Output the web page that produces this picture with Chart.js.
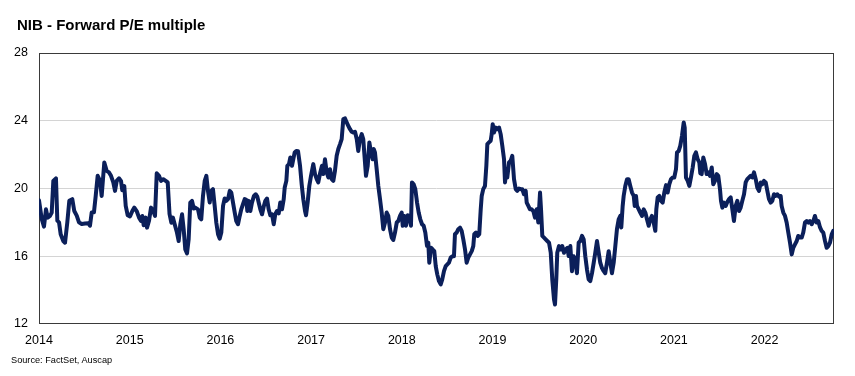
<!DOCTYPE html>
<html><head><meta charset="utf-8">
<script src="https://cdn.jsdelivr.net/npm/chart.js@4.4.0/dist/chart.umd.min.js"></script>
<style>
html,body{margin:0;padding:0;background:#fff;}
#wrap{position:relative;width:855px;height:376px;overflow:hidden;background:#fff;}
#title{position:absolute;left:17px;top:16px;font:bold 15px "Liberation Sans",Arial,sans-serif;line-height:18px;color:#000;white-space:nowrap;}
#source{position:absolute;left:11px;top:355px;font:9.2px "Liberation Sans",Arial,sans-serif;line-height:11px;color:#000;white-space:nowrap;}
canvas{position:absolute;left:0;top:0;}
</style></head>
<body><div id="wrap"><canvas id="c" width="855" height="376"></canvas><div id="title">NIB - Forward P/E multiple</div><div id="source">Source: FactSet, Auscap</div></div>
<script>
// Dates as decimal years (weekly-ish observations)
const dates = [
2014.000,2014.030,2014.055,2014.077,2014.096,2014.121,2014.140,2014.158,2014.187,2014.202,2014.221,2014.239,2014.268,2014.287,2014.312,2014.334,2014.367,2014.389,2014.416,2014.441,2014.471,2014.507,2014.544,2014.562,2014.581,2014.606,2014.625,2014.647,2014.673,2014.691,2014.720,2014.746,2014.772,2014.794,2014.819,2014.838,2014.857,2014.882,2014.904,2014.918,2014.940,2014.956,2014.978,
2015.003,2015.029,2015.051,2015.077,2015.103,2015.125,2015.139,2015.154,2015.176,2015.191,2015.213,2015.235,2015.260,2015.279,2015.298,2015.323,2015.345,2015.370,2015.397,2015.419,2015.439,2015.459,2015.477,2015.496,2015.521,2015.540,2015.558,2015.577,2015.595,2015.613,2015.632,2015.650,2015.668,2015.687,2015.706,2015.723,2015.753,2015.772,2015.789,2015.808,2015.827,2015.845,2015.863,2015.882,2015.900,2015.918,2015.937,2015.955,2015.974,2015.992,
2016.010,2016.029,2016.047,2016.065,2016.084,2016.103,2016.120,2016.139,2016.158,2016.175,2016.194,2016.213,2016.230,2016.249,2016.268,2016.286,2016.297,2016.312,2016.330,2016.348,2016.370,2016.389,2016.407,2016.422,2016.440,2016.459,2016.477,2016.495,2016.514,2016.532,2016.550,2016.569,2016.588,2016.605,2016.624,2016.643,2016.660,2016.679,2016.698,2016.709,2016.727,2016.738,2016.756,2016.771,2016.789,2016.804,2016.819,2016.837,2016.856,2016.878,2016.896,2016.914,2016.933,2016.944,2016.962,2016.980,2016.999,
2017.024,2017.043,2017.062,2017.079,2017.101,2017.120,2017.134,2017.153,2017.172,2017.190,2017.208,2017.227,2017.245,2017.263,2017.282,2017.300,2017.319,2017.337,2017.355,2017.374,2017.392,2017.410,2017.429,2017.448,2017.465,2017.484,2017.503,2017.520,2017.539,2017.558,2017.575,2017.594,2017.605,2017.624,2017.642,2017.660,2017.679,2017.690,2017.704,2017.723,2017.741,2017.760,2017.778,2017.796,2017.815,2017.833,2017.851,2017.870,2017.889,2017.906,2017.925,2017.944,2017.961,2017.980,2017.999,
2018.010,2018.028,2018.046,2018.065,2018.083,2018.101,2018.112,2018.131,2018.149,2018.168,2018.186,2018.204,2018.223,2018.241,2018.259,2018.278,2018.292,2018.303,2018.322,2018.341,2018.358,2018.374,2018.391,2018.410,2018.429,2018.446,2018.465,2018.484,2018.502,2018.520,2018.539,2018.557,2018.575,2018.586,2018.605,2018.623,2018.642,2018.660,2018.678,2018.697,2018.715,2018.733,2018.752,2018.771,2018.788,2018.799,2018.818,2018.837,2018.854,2018.870,2018.881,2018.898,2018.917,2018.932,2018.943,2018.961,2018.980,2018.991,
2019.002,2019.016,2019.035,2019.053,2019.072,2019.090,2019.108,2019.127,2019.138,2019.152,2019.163,2019.182,2019.201,2019.218,2019.237,2019.256,2019.273,2019.292,2019.311,2019.328,2019.347,2019.366,2019.377,2019.395,2019.413,2019.432,2019.450,2019.468,2019.487,2019.505,2019.524,2019.535,2019.549,2019.568,2019.586,2019.604,2019.623,2019.642,2019.659,2019.678,2019.689,2019.703,2019.714,2019.733,2019.752,2019.769,2019.788,2019.807,2019.825,2019.840,2019.858,2019.876,2019.895,2019.913,2019.931,2019.950,2019.968,2019.987,
2020.005,2020.023,2020.042,2020.060,2020.078,2020.097,2020.116,2020.133,2020.152,2020.171,2020.188,2020.207,2020.226,2020.243,2020.262,2020.281,2020.299,2020.317,2020.336,2020.354,2020.372,2020.391,2020.409,2020.420,2020.435,2020.446,2020.464,2020.483,2020.501,2020.519,2020.538,2020.557,2020.568,2020.582,2020.593,2020.612,2020.629,2020.648,2020.667,2020.685,2020.703,2020.722,2020.740,2020.758,2020.777,2020.795,2020.806,2020.821,2020.839,2020.858,2020.876,2020.894,2020.913,2020.931,2020.949,2020.968,2020.987,
2021.004,2021.023,2021.034,2021.053,2021.070,2021.089,2021.108,2021.119,2021.133,2021.152,2021.170,2021.188,2021.207,2021.225,2021.243,2021.262,2021.280,2021.291,2021.306,2021.324,2021.343,2021.361,2021.379,2021.398,2021.417,2021.434,2021.453,2021.472,2021.489,2021.508,2021.519,2021.534,2021.552,2021.571,2021.589,2021.607,2021.626,2021.644,2021.662,2021.681,2021.699,2021.718,2021.736,2021.754,2021.773,2021.791,2021.809,2021.828,2021.847,2021.864,2021.883,2021.902,2021.919,2021.938,2021.957,2021.974,2021.993,
2022.012,2022.030,2022.048,2022.067,2022.085,2022.103,2022.122,2022.140,2022.159,2022.177,2022.188,2022.206,2022.225,2022.243,2022.261,2022.280,2022.299,2022.316,2022.335,2022.354,2022.371,2022.390,2022.409,2022.426,2022.445,2022.464,2022.482,2022.500,2022.519,2022.537,2022.555,2022.574,2022.592,2022.611,2022.629,2022.647,2022.666,2022.684,2022.702,2022.721,2022.740,2022.757
];
// Forward P/E multiple
const pe = [
19.3,18.2,17.75,18.77,18.28,18.38,18.58,20.45,20.6,18.1,18.0,17.3,16.9,16.8,18.0,19.27,19.37,18.67,18.4,18.0,17.9,17.93,17.95,17.8,18.58,18.6,19.56,20.75,20.45,19.56,21.54,21.04,20.95,20.75,20.36,19.86,20.45,20.6,20.45,19.9,20.15,18.97,18.42,
18.35,18.67,18.87,18.67,18.28,18.08,18.38,17.83,18.28,17.69,18.1,18.87,18.67,18.38,20.9,20.75,20.45,20.55,20.45,20.36,18.5,17.98,18.28,17.89,17.4,16.9,17.89,18.48,17.6,16.4,16.17,17.0,19.17,19.27,18.82,18.87,18.77,18.28,18.18,19.56,20.45,20.75,19.86,19.17,19.86,19.96,18.97,17.98,17.3,17.04,
17.4,18.97,19.41,19.27,19.37,19.86,19.76,19.17,18.58,18.08,17.89,18.38,18.77,19.07,19.37,19.33,18.67,19.27,18.67,19.17,19.56,19.66,19.52,19.17,18.77,18.48,18.92,19.27,19.41,18.77,18.42,18.48,17.89,18.48,18.67,18.53,19.17,18.77,19.37,20.06,20.45,21.34,21.44,21.83,21.34,21.73,22.13,22.22,22.2,21.34,20.25,19.37,18.67,18.42,19.17,20.15,20.75,
21.44,20.85,20.55,20.36,20.95,21.34,20.85,21.73,20.95,20.65,21.14,20.55,20.45,21.04,21.93,22.33,22.62,22.92,24.1,24.14,23.9,23.7,23.5,23.35,23.3,23.35,22.92,22.22,22.92,23.21,22.92,21.54,20.75,21.34,22.72,22.13,21.73,22.33,22.13,21.14,20.15,19.37,18.58,17.6,17.99,18.58,18.38,17.6,17.1,16.96,17.4,17.99,18.08,18.38,18.58,
17.8,18.38,17.8,18.42,18.38,17.8,20.36,20.25,19.96,19.17,18.58,18.18,17.89,17.8,17.4,16.6,16.8,15.62,16.5,16.4,16.3,15.42,14.93,14.53,14.34,14.63,15.12,15.42,15.52,15.62,15.92,16.0,16.0,17.3,17.4,17.6,17.69,17.5,17.0,16.4,15.62,15.92,16.11,16.3,16.6,17.3,17.4,17.2,17.3,18.77,19.56,19.96,20.15,21.34,22.62,22.72,22.82,23.21,
23.8,23.3,23.6,23.5,23.6,23.21,22.52,21.73,20.36,21.14,20.65,21.54,21.64,21.93,20.55,19.96,19.86,20.0,19.96,19.96,19.66,19.86,19.17,18.97,18.77,18.77,18.67,18.28,18.77,17.99,19.76,18.77,17.2,17.1,17.0,16.9,16.8,16.21,14.63,13.45,13.15,14.63,16.21,16.6,16.4,16.6,16.21,16.4,16.5,16.01,16.6,15.12,16.0,15.8,15.0,16.8,16.9,17.2,
17.0,16.0,15.2,14.63,14.53,15.0,15.62,16.21,16.9,16.21,15.62,15.3,15.12,15.0,15.62,16.3,15.62,15.0,15.62,16.6,17.6,18.18,18.38,17.7,18.97,19.56,20.15,20.55,20.55,20.15,19.76,19.56,18.97,19.56,18.97,18.77,18.58,18.38,18.77,18.58,18.18,17.8,18.18,18.38,17.99,17.5,18.77,19.47,19.56,19.27,19.17,19.76,20.2,19.76,20.25,20.55,20.65,
20.65,21.14,22.13,22.22,22.52,23.11,23.9,23.6,20.65,20.45,20.15,20.65,21.24,21.93,22.13,21.73,21.54,20.9,20.85,21.83,21.44,20.85,20.95,20.75,21.24,20.25,20.45,20.85,20.75,19.96,19.27,18.87,19.17,18.97,19.2,19.37,19.47,18.77,18.08,18.97,19.27,18.67,18.87,19.27,19.66,20.36,20.55,20.65,20.75,20.65,20.95,20.55,20.06,19.86,20.36,20.25,20.45,
20.36,19.86,19.37,19.17,19.27,19.66,19.56,19.66,19.52,19.56,18.97,18.58,18.38,17.99,17.4,16.8,16.11,16.5,16.7,16.9,17.2,17.1,17.1,17.4,17.99,18.08,17.99,18.08,17.89,18.08,18.38,17.99,18.08,17.7,17.5,17.4,16.9,16.5,16.6,16.8,17.3,17.5
];
const yearTicks = [2014,2015,2016,2017,2018,2019,2020,2021,2022];
const yTicks = [12,16,20,24,28];
const xStart = 2014, xEnd = 2022.765;

Chart.defaults.font.family = '"Liberation Sans", Arial, sans-serif';
Chart.defaults.color = '#000';

const frame = {
  id: 'frame',
  beforeDatasetsDraw(c) {
    const {ctx, chartArea: a} = c;
    ctx.save();
    ctx.strokeStyle = '#3a3a3a';
    ctx.lineWidth = 1;
    ctx.strokeRect(a.left + 0.5, a.top + 0.5, a.right - a.left - 1, a.bottom - a.top - 1);
    ctx.restore();
  }
};

new Chart(document.getElementById('c'), {
  type: 'line',
  data: {
    datasets: [{
      data: dates.map((d, i) => ({x: d, y: pe[i]})),
      borderColor: '#0b1f5a',
      borderWidth: 4,
      pointRadius: 0,
      tension: 0,
      fill: false,
      borderJoinStyle: 'round',
      borderCapStyle: 'round'
    }]
  },
  options: {
    responsive: false,
    devicePixelRatio: 1,
    animation: false,
    layout: {padding: {top: 53, right: 21, bottom: 22, left: 0}},
    plugins: {legend: {display: false}, tooltip: {enabled: false}, title: {display: false}},
    scales: {
      x: {
        type: 'linear', min: xStart, max: xEnd,
        afterBuildTicks: s => { s.ticks = yearTicks.map(v => ({value: v})); },
        afterFit: s => { s.height = 30; },
        ticks: {callback: v => String(v), autoSkip: false, maxRotation: 0, padding: 9, color: '#000', font: {size: 12.5}},
        grid: {display: false, drawTicks: false},
        border: {display: false}
      },
      y: {
        min: 12, max: 28,
        afterBuildTicks: s => { s.ticks = yTicks.map(v => ({value: v})); },
        afterFit: s => { s.width = 39; },
        ticks: {padding: 11, color: '#000', font: {size: 12.5}},
        grid: {drawTicks: false, lineWidth: 1,
          color: ctx => (ctx.tick && (ctx.tick.value === 12 || ctx.tick.value === 28)) ? 'rgba(0,0,0,0)' : '#d4d4d4'},
        border: {display: false}
      }
    }
  },
  plugins: [frame]
});
</script>
</body></html>
